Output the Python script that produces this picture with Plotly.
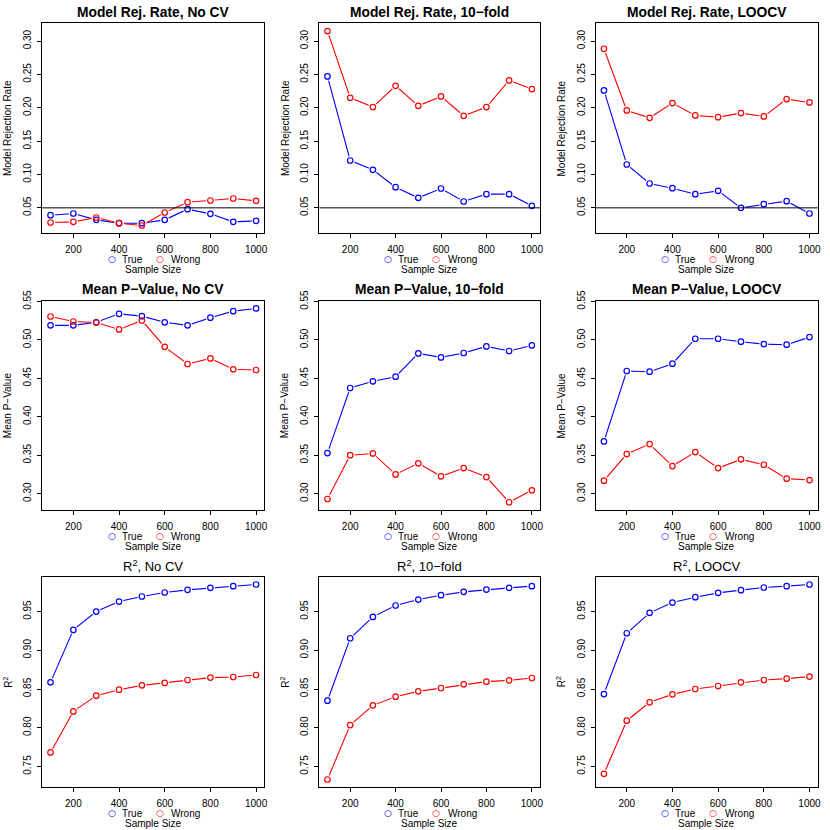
import plotly.graph_objects as go

W = H = 830
FONT = "Liberation Sans, Arial, Helvetica, sans-serif"

sample_sizes = [100, 200, 300, 400, 500, 600, 700, 800, 900, 1000]

rej_nocv_true = [0.039, 0.0415, 0.032, 0.027, 0.027, 0.032, 0.048, 0.041, 0.029, 0.0305]
rej_nocv_wrong = [0.028, 0.029, 0.0355, 0.027, 0.0235, 0.043, 0.0585, 0.061, 0.064, 0.0605]
rej_10f_true = [0.247, 0.121, 0.107, 0.081, 0.065, 0.079, 0.0595, 0.0705, 0.0705, 0.053]
rej_10f_wrong = [0.315, 0.215, 0.201, 0.233, 0.203, 0.217, 0.188, 0.201, 0.241, 0.228]
rej_loo_true = [0.226, 0.115, 0.0865, 0.0795, 0.0705, 0.0755, 0.05, 0.0555, 0.06, 0.0415]
rej_loo_wrong = [0.2885, 0.196, 0.185, 0.207, 0.1885, 0.186, 0.192, 0.187, 0.213, 0.208]

pv_nocv_true = [0.519, 0.519, 0.523, 0.534, 0.531, 0.523, 0.519, 0.529, 0.5375, 0.541]
pv_nocv_wrong = [0.5305, 0.524, 0.5227, 0.5137, 0.5253, 0.491, 0.4687, 0.476, 0.4618, 0.4609]
pv_10f_true = [0.3528, 0.4375, 0.4462, 0.4522, 0.4825, 0.4773, 0.483, 0.4916, 0.4856, 0.4929]
pv_10f_wrong = [0.293, 0.350, 0.3523, 0.325, 0.3394, 0.3225, 0.3333, 0.3216, 0.2888, 0.3043]
pv_loo_true = [0.3679, 0.4596, 0.4587, 0.4691, 0.5016, 0.5016, 0.4977, 0.4946, 0.4938, 0.5037]
pv_loo_wrong = [0.3169, 0.3515, 0.3645, 0.3359, 0.3541, 0.3333, 0.3446, 0.3376, 0.3195, 0.3177]

r2_nocv_true = [0.8586, 0.9263, 0.95, 0.9629, 0.9694, 0.9746, 0.978, 0.9806, 0.9828, 0.9849]
r2_nocv_wrong = [0.7681, 0.8211, 0.8414, 0.8491, 0.8547, 0.8578, 0.8616, 0.8647, 0.8655, 0.8681]
r2_10f_true = [0.8349, 0.9155, 0.9431, 0.9578, 0.9655, 0.9711, 0.9754, 0.9784, 0.9806, 0.9828]
r2_10f_wrong = [0.7332, 0.8034, 0.8289, 0.8401, 0.847, 0.8513, 0.856, 0.8595, 0.8612, 0.8642]
r2_loo_true = [0.8435, 0.922, 0.9483, 0.9616, 0.9685, 0.9741, 0.9776, 0.981, 0.9828, 0.9849]
r2_loo_wrong = [0.7405, 0.8091, 0.8328, 0.8431, 0.85, 0.8539, 0.8586, 0.8616, 0.8634, 0.866]

series_names = ["True", "Wrong"]
series_colors = ["#0000FF", "#FF0000"]
rejection_threshold = 0.05

rows = [
    dict(titles=["Model Rej. Rate, No CV", "Model Rej. Rate, 10\u2212fold", "Model Rej. Rate, LOOCV"],
         bold=True, ylabel="Model Rejection Rate",
         data=[(rej_nocv_true, rej_nocv_wrong), (rej_10f_true, rej_10f_wrong), (rej_loo_true, rej_loo_wrong)],
         ticks=[0.05, 0.10, 0.15, 0.20, 0.25, 0.30], hline=True),
    dict(titles=["Mean P\u2212Value, No CV", "Mean P\u2212Value, 10\u2212fold", "Mean P\u2212Value, LOOCV"],
         bold=True, ylabel="Mean P\u2212Value",
         data=[(pv_nocv_true, pv_nocv_wrong), (pv_10f_true, pv_10f_wrong), (pv_loo_true, pv_loo_wrong)],
         ticks=[0.30, 0.35, 0.40, 0.45, 0.50, 0.55], hline=False),
    dict(titles=["R<sup>2</sup>, No CV", "R<sup>2</sup>, 10\u2212fold", "R<sup>2</sup>, LOOCV"],
         bold=False, ylabel="R<sup>2</sup>",
         data=[(r2_nocv_true, r2_nocv_wrong), (r2_10f_true, r2_10f_wrong), (r2_loo_true, r2_loo_wrong)],
         ticks=[0.75, 0.80, 0.85, 0.90, 0.95], hline=False),
]
x_ticks = [200, 400, 600, 800, 1000]

# panel boxes in pixels
col_left = [42.3, 319.3, 595.7]
col_right = [264.3, 540.0, 817.7]
row_top = [23.3, 300.7, 576.7]
row_bottom = [233.3, 510.0, 787.3]


def px_x(p):
    return p / W


def px_y(p):
    return 1 - p / H


def ext(lo, hi, f=0.04):
    d = (hi - lo) * f
    return [lo - d, hi + d]


fig = go.Figure()
layout = dict(template="none", width=W, height=H,
              margin=dict(l=0, r=0, t=0, b=0, pad=0, autoexpand=False),
              paper_bgcolor="white", plot_bgcolor="white",
              font=dict(family=FONT, size=10, color="black"),
              showlegend=False)
annotations = []
shapes = []

xr = ext(min(sample_sizes), max(sample_sizes))

k = 0
for r, row in enumerate(rows):
    allv = [v for pair in row["data"] for s in pair for v in s]
    yr = ext(min(allv), max(allv))
    for c in range(3):
        k += 1
        sfx = "" if k == 1 else str(k)
        xa, ya = "x" + sfx, "y" + sfx
        axis_common = dict(showline=True, mirror=True, linecolor="black", linewidth=1,
                           ticks="outside", ticklen=4, tickcolor="black", tickwidth=1,
                           showgrid=False, zeroline=False, automargin=False,
                           tickfont=dict(family=FONT, size=10, color="black"))
        layout["xaxis" + sfx] = dict(axis_common, domain=[px_x(col_left[c]), px_x(col_right[c])],
                                     range=xr, tickvals=x_ticks, anchor=ya, ticklabelstandoff=3)
        layout["yaxis" + sfx] = dict(axis_common, domain=[px_y(row_bottom[r]), px_y(row_top[r])],
                                     range=yr, tickvals=row["ticks"], tickformat=".2f",
                                     tickangle=-90, anchor=xa, ticklabelstandoff=2)
        pair = row["data"][c]
        for s in range(2):
            fig.add_trace(go.Scatter(x=sample_sizes, y=pair[s], mode="lines", xaxis=xa, yaxis=ya,
                                     line=dict(color=series_colors[s], width=1.1),
                                     showlegend=False, hoverinfo="skip"))
        for s in range(2):
            fig.add_trace(go.Scatter(x=sample_sizes, y=pair[s], mode="markers", xaxis=xa, yaxis=ya,
                                     marker=dict(color="white", size=9, line=dict(width=0)),
                                     showlegend=False, hoverinfo="skip"))
        for s in range(2):
            fig.add_trace(go.Scatter(x=sample_sizes, y=pair[s], mode="markers", xaxis=xa, yaxis=ya,
                                     marker=dict(symbol="circle-open", color=series_colors[s], size=5.5,
                                                 line=dict(width=1.2, color=series_colors[s])),
                                     name=series_names[s], showlegend=False))
        cx = (col_left[c] + col_right[c]) / 2
        # legend (R-style, no box) as text
        leg_y = px_y(row_bottom[r] + 26)
        for s, (sym_off, txt_off) in enumerate(((-41.6, -32.5), (6.7, 17.0))):
            annotations.append(dict(
                text="<b>\u25cb</b>", xref="paper", yref="paper", x=px_x(cx + sym_off), y=leg_y,
                xanchor="center", yanchor="middle", showarrow=False, borderpad=0,
                font=dict(family="DejaVu Sans", size=9, color=series_colors[s])))
            annotations.append(dict(
                text=series_names[s], xref="paper", yref="paper", x=px_x(cx + txt_off), y=leg_y,
                xanchor="left", yanchor="middle", showarrow=False, borderpad=0,
                font=dict(family=FONT, size=10, color="black")))
        ttxt = "<b>%s</b>" % row["titles"][c] if row["bold"] else row["titles"][c]
        annotations.append(dict(text=ttxt, xref="paper", yref="paper", x=px_x(cx),
                                y=px_y(row_top[r] - 11), xanchor="center", yanchor="middle",
                                showarrow=False,
                                font=dict(family=FONT, size=13.8 if row["bold"] else 13, color="black")))
        annotations.append(dict(text="Sample Size", xref="paper", yref="paper", x=px_x(cx),
                                y=px_y(row_bottom[r] + 36), xanchor="center", yanchor="middle",
                                showarrow=False, borderpad=0, font=dict(family=FONT, size=10, color="black")))
        cy = (row_top[r] + row_bottom[r]) / 2
        annotations.append(dict(text=row["ylabel"], xref="paper", yref="paper",
                                x=px_x(col_left[c] - 34.5), y=px_y(cy), xanchor="center",
                                yanchor="middle", textangle=-90, showarrow=False,
                                font=dict(family=FONT, size=10, color="black")))
        if row["hline"]:
            shapes.append(dict(type="line", xref=xa + " domain", yref=ya, x0=0, x1=1,
                               y0=rejection_threshold, y1=rejection_threshold,
                               line=dict(color="black", width=1), layer="above"))

layout["annotations"] = annotations
layout["shapes"] = shapes
fig.update_layout(**layout)
fig.write_html(
    "out.html", config={"displayModeBar": False},
    post_script=("document.body.style.margin='0px';document.body.style.overflow='hidden';"
                 "var gd=document.getElementById('{plot_id}');gd.style.position='fixed';"
                 "gd.style.top='0px';gd.style.left='0px';"))
